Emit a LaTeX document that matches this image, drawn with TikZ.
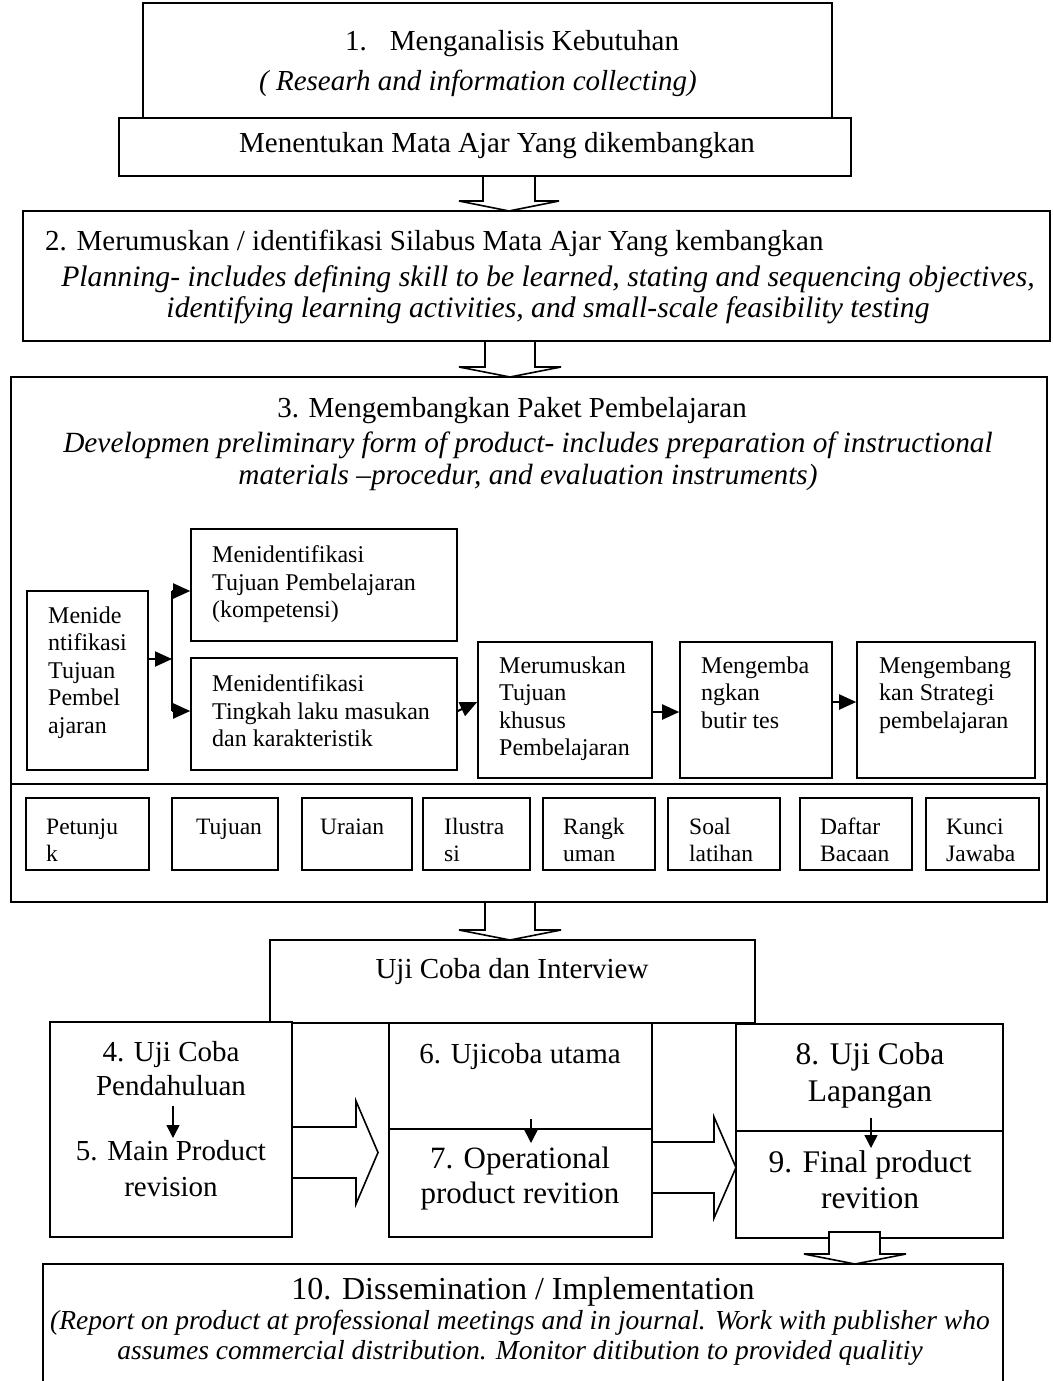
\documentclass[tikz,border=0pt]{standalone}
\usepackage{fontspec}
\setmainfont{Liberation Serif}
\usetikzlibrary{arrows.meta,fit,calc}
\tikzset{
  bx/.style={draw,line width=1.6pt,fill=white,inner sep=0pt},
  blk/.style={draw,line width=1.6pt,fill=white,line join=miter},
  lab/.style={inner sep=0pt,anchor=base,font=\fontsize{29}{33}\selectfont},
  ilab/.style={inner sep=0pt,anchor=base,font=\fontsize{29}{33}\selectfont\itshape},
  iblock/.style={inner sep=0pt,anchor=north,align=center},
  cblock/.style={inner sep=0pt,anchor=north,align=center},
  sm/.style={inner sep=0pt,anchor=north west,align=left,font=\fontsize{24}{27.5}\selectfont},
  md/.style={inner sep=0pt,anchor=north west,align=left,font=\fontsize{23.5}{27}\selectfont},
  arr/.style={line width=2pt,-{Triangle[length=17pt,width=15pt]}},
  darr/.style={line width=1.5pt,-{Triangle[length=13pt,width=13pt]}},
}
\begin{document}
\begin{tikzpicture}[x=1pt,y=-1pt]
\clip (0,0) rectangle (1052,1381);
\fill[white] (0,0) rectangle (1052,1381);

% ---------- step 1
\node[bx,fit={(143,3)(832,118)}] (b1) {};
\node[bx,fit={(119,118)(851,176)}] (bm) {};
\node[lab,anchor=base west] (t1) at (345,51) {1.\hspace{23pt}Menganalisis Kebutuhan};
\node[ilab] (t1i) at (478,90) {( Researh and information collecting)};
\node[lab] (tm) at (497,152) {Menentukan Mata Ajar Yang dikembangkan};

% ---------- step 2
\node[bx,fit={(23,211)(1050,341)}] (b2) {};
\node[lab,anchor=base west] (t2) at (45,250) {2. Merumuskan / identifikasi Silabus Mata Ajar Yang kembangkan};
\node[iblock,font=\fontsize{29.7}{31}\selectfont\itshape] (t2i) at (548,265.7) {Planning- includes defining skill to be learned, stating and sequencing objectives,\\identifying learning activities, and small-scale feasibility testing};

% block arrows 1 and 2
\draw[blk] (483,176) -- (483,201) -- (459,201) -- (509,211) -- (559,201) -- (535,201) -- (535,176) -- cycle;
\draw[blk] (485,341) -- (485,367) -- (459,367) -- (510,377) -- (561,367) -- (535,367) -- (535,341) -- cycle;

% ---------- step 3
\node[bx,fit={(11,377)(1047,902)}] (b3) {};
\coordinate (dv) at (0,784);
\draw[line width=1.6pt] (b3.west |- dv) -- (b3.east |- dv);
\node[lab] (t3) at (512,417) {3. Mengembangkan Paket Pembelajaran};
\node[iblock,font=\fontsize{29.3}{32}\selectfont\itshape] (t3i) at (528,432) {Developmen preliminary form of product- includes preparation of instructional\\materials --procedur, and evaluation instruments)};

% inner process boxes
\node[bx,fit={(27,591)(148,770)}] (mn) {};
\node[sm] (tmn) at (48,606.5) {Menide\\ntifikasi\\Tujuan\\Pembel\\ajaran};
\node[bx,fit={(191,529)(457,641)}] (tb) {};
\node[sm] (ttb) at (212,545.5) {Menidentifikasi\\Tujuan Pembelajaran\\(kompetensi)};
\node[bx,fit={(191,658)(457,770)}] (bb) {};
\node[sm] (tbb) at (212,674.5) {Menidentifikasi\\Tingkah laku masukan\\dan karakteristik};
\node[bx,fit={(478,642)(652,778)}] (mr) {};
\node[sm] (tmr) at (499,656.5) {Merumuskan\\Tujuan\\khusus\\Pembelajaran};
\node[bx,fit={(680,642)(832,778)}] (mg) {};
\node[sm] (tmg) at (701,656.5) {Mengemba\\ngkan\\butir tes};
\node[bx,fit={(857,642)(1035,778)}] (st) {};
\node[sm] (tst) at (879,656.5) {Mengembang\\kan Strategi\\pembelajaran};

\coordinate (jn) at (172,659);
\coordinate (ja) at (172,591);
\coordinate (jb) at (172,711);
\draw[arr] (mn.east |- jn) -- (jn);
\draw[line width=2pt] (ja) -- (jb);
\draw[arr] (ja) -- (tb.west |- ja);
\draw[arr] (jb) -- (bb.west |- jb);
\draw[arr] ([yshift=3pt]bb.east) -- ([yshift=8pt]mr.west);
\draw[arr] ([yshift=-2pt]mr.east) -- ([yshift=-2pt]mg.west);
\draw[arr] ([yshift=8pt]mg.east) -- ([yshift=8pt]st.west);

% module boxes
\node[bx,fit={(26,798)(149,870)}] (m1) {};
\node[md] (tm1) at (46,815) {\strut Petunju\\k};
\node[bx,fit={(172,798)(278,870)}] (m2) {};
\node[md] (tm2) at (196,815) {\strut Tujuan};
\node[bx,fit={(302,798)(412,870)}] (m3) {};
\node[md] (tm3) at (320,815) {\strut Uraian};
\node[bx,fit={(423,798)(530,870)}] (m4) {};
\node[md] (tm4) at (444,815) {\strut Ilustra\\si};
\node[bx,fit={(543,798)(655,870)}] (m5) {};
\node[md] (tm5) at (563,815) {\strut Rangk\\uman};
\node[bx,fit={(668,798)(780,870)}] (m6) {};
\node[md] (tm6) at (689,815) {\strut Soal\\latihan};
\node[bx,fit={(800,798)(912,870)}] (m7) {};
\node[md] (tm7) at (820,815) {\strut Daftar\\Bacaan};
\node[bx,fit={(926,798)(1039,870)}] (m8) {};
\node[md] (tm8) at (946,815) {\strut Kunci\\Jawaba};

% block arrow 3
\draw[blk] (485,902) -- (485,930) -- (459,930) -- (510,940) -- (561,930) -- (535,930) -- (535,902) -- cycle;

% ---------- Uji coba
\node[bx,fit={(270,940)(755,1023)}] (uj) {};
\node[lab] (tuj) at (512,978) {Uji Coba dan Interview};

\node[bx,fit={(50,1022)(292,1237)}] (b4) {};
\node[cblock,font=\fontsize{29}{34}\selectfont] (t4) at (171,1041) {4. Uji Coba\\Pendahuluan};
\node[cblock,font=\fontsize{29}{36}\selectfont] (t5) at (171,1140) {5. Main Product\\revision};
\coordinate (a4) at (173,1106);
\draw[darr] (a4) -- ++(0,32);

\node[bx,fit={(389,1023)(652,1129)}] (b6) {};
\node[lab] (t6) at (520,1063) {6. Ujicoba utama};
\node[bx,fit={(389,1129)(652,1237)}] (b7) {};
\node[cblock,font=\fontsize{31}{35}\selectfont] (t7) at (520,1147) {7. Operational\\product revition};
\coordinate (a6) at (531,1119);
\draw[darr] (a6) -- ++(0,24);

\node[bx,fit={(736,1024)(1003,1131)}] (b8) {};
\node[cblock,font=\fontsize{31.5}{37}\selectfont] (t8) at (870,1042.5) {8. Uji Coba\\Lapangan};
\node[bx,fit={(736,1131)(1003,1238)}] (b9) {};
\node[cblock,font=\fontsize{31.5}{36}\selectfont] (t9) at (870,1150.5) {9. Final product\\revition};
\coordinate (a8) at (871,1118);
\draw[darr] (a8) -- ++(0,30);

% horizontal block arrows
\draw[blk] (292,1127) -- (356,1127) -- (356,1101) -- (378,1152.5) -- (356,1204) -- (356,1178) -- (292,1178) -- cycle;
\draw[blk] (652,1142) -- (714,1142) -- (714,1117) -- (736,1167.5) -- (714,1218) -- (714,1193) -- (652,1193) -- cycle;

% ---------- step 10
\node[bx,fit={(43,1264)(1003,1420)}] (b10) {};
\node[lab,font=\fontsize{32}{36}\selectfont] (t10) at (523,1299) {10. Dissemination / Implementation};
\node[cblock,font=\fontsize{27.5}{30}\selectfont\itshape] (t10i) at (520,1309.5) {(Report on product at professional meetings and in journal. Work with publisher who\\assumes commercial distribution. Monitor ditibution to provided qualitiy};

\draw[blk] (829,1232) -- (829,1254) -- (804,1254) -- (855,1264) -- (906,1254) -- (880,1254) -- (880,1232) -- cycle;
\end{tikzpicture}
\end{document}
